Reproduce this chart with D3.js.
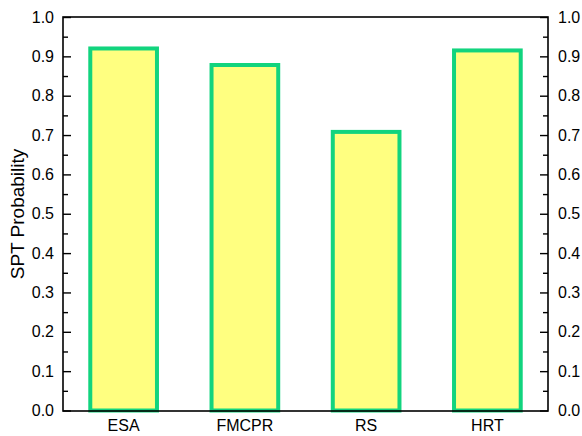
<!DOCTYPE html>
<html>
<head>
<meta charset="utf-8">
<script src="https://cdn.jsdelivr.net/npm/d3@7"></script>
<style>
  html, body { margin: 0; padding: 0; background: #fff; }
  svg { display: block; font-family: "Liberation Sans", Arial, sans-serif; }
</style>
</head>
<body>
<svg id="chart" width="582" height="436"></svg>
<script>
// Methods and their SPT probability
const categories = ["ESA", "FMCPR", "RS", "HRT"];
const values = [0.92, 0.878, 0.708, 0.915];
const yTicks = [0.0, 0.1, 0.2, 0.3, 0.4, 0.5, 0.6, 0.7, 0.8, 0.9, 1.0];
const yMinorTicks = [0.05, 0.15, 0.25, 0.35, 0.45, 0.55, 0.65, 0.75, 0.85, 0.95];

const svg = d3.select("#chart");
const margin = { left: 63, right: 34, top: 17, bottom: 25 };
const W = 582, H = 436;
const x0 = margin.left, x1 = W - margin.right;
const y0 = H - margin.bottom, y1 = margin.top;

const x = d3.scaleBand().domain(categories).range([x0, x1]).paddingInner(0.45).paddingOuter(0.225);
const y = d3.scaleLinear().domain([0, 1]).range([y0 - 0.5, y1]);

// Bars
svg.append("g").selectAll("rect")
  .data(categories)
  .join("rect")
  .attr("x", d => x(d))
  .attr("width", x.bandwidth())
  .attr("y", (d, i) => y(values[i]))
  .attr("height", (d, i) => y(0) - y(values[i]))
  .attr("fill", "#ffff80")
  .attr("stroke", "#12d47e")
  .attr("stroke-width", 4);

// Left axis with inward ticks
const fmt = d3.format(".1f");
const left = svg.append("g").attr("transform", `translate(${x0},0)`);
left.call(d3.axisRight(y).tickValues(yTicks).tickSize(8).tickFormat(""));
left.append("g").call(d3.axisRight(y).tickValues(yMinorTicks).tickSize(5).tickFormat(""));
left.selectAll(".domain").remove();
left.selectAll(".tick line").attr("stroke", "#000").attr("stroke-width", 1.4);
svg.append("g").selectAll("text").data(yTicks).join("text")
  .attr("x", x0 - 9).attr("y", d => y(d) + 5.5)
  .attr("text-anchor", "end").attr("font-size", 16).attr("fill", "#000")
  .text(d => fmt(d));

// Right axis with inward ticks
const right = svg.append("g").attr("transform", `translate(${x1},0)`);
right.call(d3.axisLeft(y).tickValues(yTicks).tickSize(8).tickFormat(""));
right.append("g").call(d3.axisLeft(y).tickValues(yMinorTicks).tickSize(5).tickFormat(""));
right.selectAll(".domain").remove();
right.selectAll(".tick line").attr("stroke", "#000").attr("stroke-width", 1.4);
svg.append("g").selectAll("text").data(yTicks).join("text")
  .attr("x", x1 + 10).attr("y", d => y(d) + 5.5)
  .attr("text-anchor", "start").attr("font-size", 16).attr("fill", "#000")
  .text(d => fmt(d));

// Frame
svg.append("rect")
  .attr("x", x0).attr("y", y1)
  .attr("width", x1 - x0).attr("height", y0 - y1)
  .attr("fill", "none").attr("stroke", "#000").attr("stroke-width", 1.6);

// Category labels
svg.append("g").selectAll("text").data(categories).join("text")
  .attr("x", d => x(d) + x.bandwidth() / 2).attr("y", 431)
  .attr("text-anchor", "middle").attr("font-size", 16).attr("fill", "#000")
  .text(d => d);

// Y axis title
svg.append("text")
  .attr("transform", `translate(24,${(y0 + y1) / 2}) rotate(-90)`)
  .attr("text-anchor", "middle").attr("font-size", 19).attr("fill", "#000")
  .text("SPT Probability");
</script>
</body>
</html>
